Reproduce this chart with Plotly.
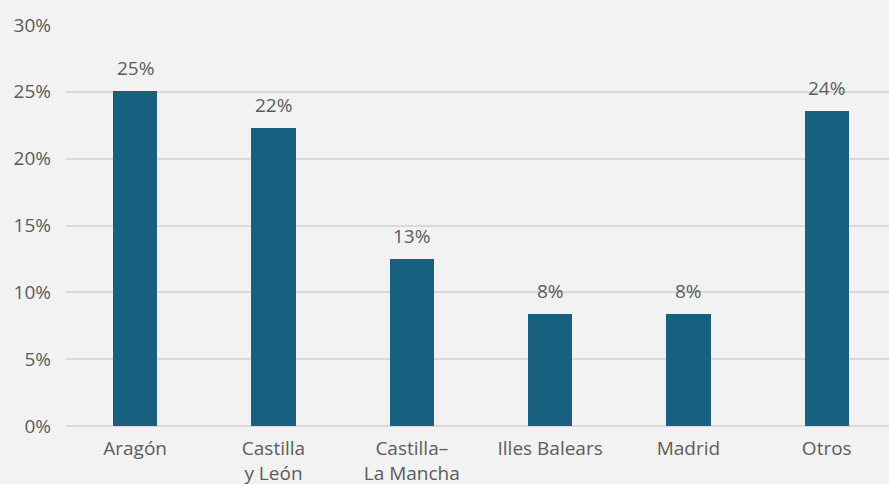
import plotly.graph_objects as go

categories = ["Aragón", "Castilla<br>y León", "Castilla–<br>La Mancha", "Illes Balears", "Madrid", "Otros"]
values = [25.1, 22.3, 12.5, 8.4, 8.4, 23.6]
value_labels = ["25%", "22%", "13%", "8%", "8%", "24%"]
y_ticks = [0, 5, 10, 15, 20, 25, 30]
y_tick_labels = ["0%", "5%", "10%", "15%", "20%", "25%", "30%"]

BAR = "#17607f"
TXT = "#5c5c5c"
GRID = "#d9d9d9"
BG = "#f2f2f2"
FONT = "Open Sans"
FS = 19

fig = go.Figure()
fig.add_trace(go.Bar(
    x=list(range(len(categories))),
    y=values,
    width=0.32,
    marker=dict(color=BAR, line=dict(width=0)),
    hoverinfo="skip",
))

for i, (v, lab) in enumerate(zip(values, value_labels)):
    fig.add_annotation(
        x=i, y=v, text=lab, showarrow=False,
        yanchor="bottom", xanchor="center", yshift=8,
        font=dict(family=FONT, size=FS, color=TXT),
    )

fig.update_layout(
    width=889, height=484,
    margin=dict(l=66, r=0, t=25, b=58),
    paper_bgcolor=BG, plot_bgcolor=BG,
    font=dict(family=FONT, size=FS, color=TXT),
    showlegend=False,
    bargap=0,
)
fig.update_xaxes(
    range=[-0.5, 5.45],
    tickmode="array",
    tickvals=list(range(len(categories))),
    ticktext=categories,
    showgrid=False, zeroline=False, showline=False,
    ticks="", ticklabelstandoff=9, automargin=False,
    tickfont=dict(family=FONT, size=FS, color=TXT),
)
fig.update_yaxes(
    range=[0, 30],
    tickmode="array",
    tickvals=y_ticks,
    ticktext=y_tick_labels,
    showgrid=True, gridcolor=GRID, gridwidth=1.5,
    zeroline=True, zerolinecolor=GRID, zerolinewidth=1.5,
    showline=False, ticks="", ticklabelstandoff=14, automargin=False,
    tickfont=dict(family=FONT, size=FS, color=TXT),
)

fig.write_html(
    "out.html",
    config={"displayModeBar": False},
    post_script="document.body.style.margin='0';document.body.style.overflow='hidden';",
)
